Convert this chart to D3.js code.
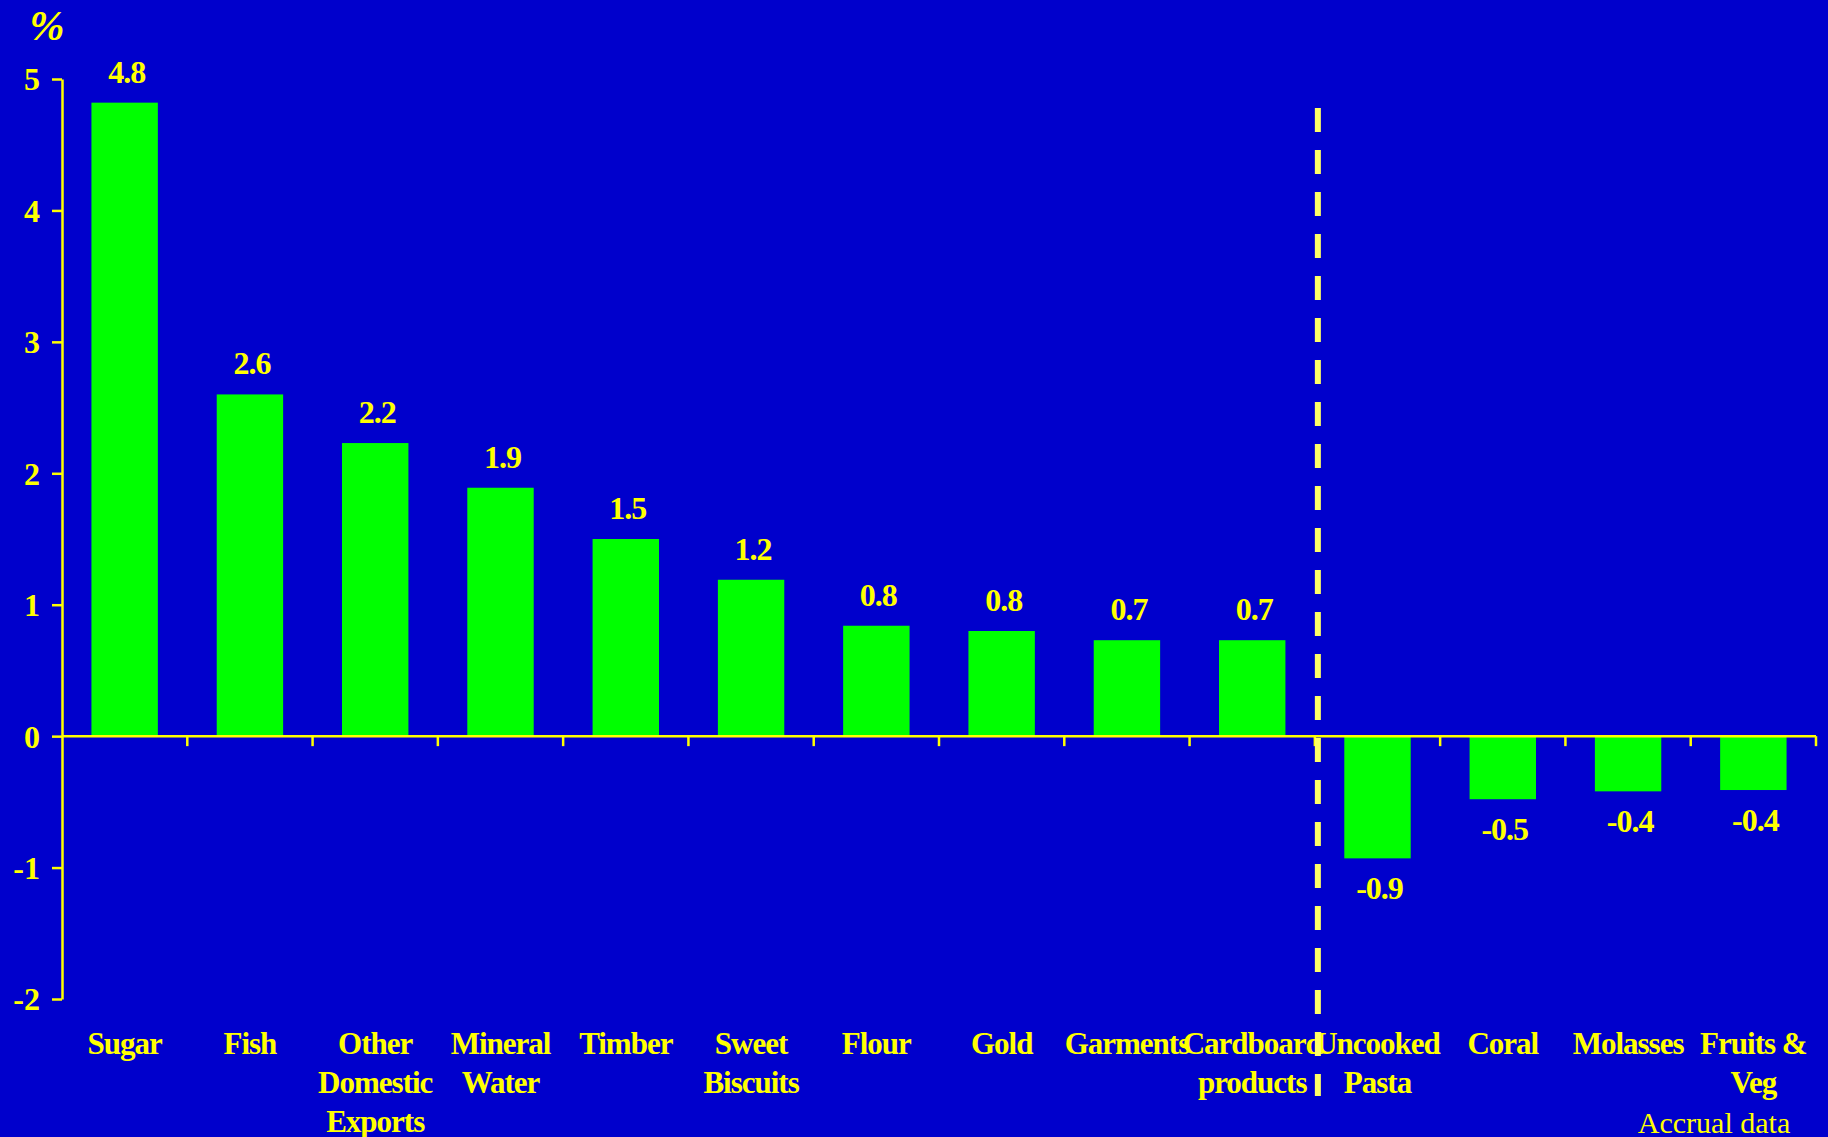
<!DOCTYPE html>
<html>
<head>
<meta charset="utf-8">
<script src="https://cdn.jsdelivr.net/npm/d3@7"></script>
<style>
  html, body { margin: 0; padding: 0; background: #0000CC; }
  svg { display: block; }
</style>
</head>
<body>
<svg id="chart" width="1828" height="1137"></svg>
<script>
const categories = ["Sugar", "Fish", "Other Domestic Exports", "Mineral Water", "Timber", "Sweet Biscuits", "Flour", "Gold", "Garments", "Cardboard products", "Uncooked Pasta", "Coral", "Molasses", "Fruits & Veg"];
const categoryLines = [["Sugar"], ["Fish"], ["Other", "Domestic", "Exports"], ["Mineral", "Water"], ["Timber"], ["Sweet", "Biscuits"], ["Flour"], ["Gold"], ["Garments"], ["Cardboard", "products"], ["Uncooked", "Pasta"], ["Coral"], ["Molasses"], ["Fruits &", "Veg"]];
const values = [4.82, 2.60, 2.23, 1.89, 1.50, 1.19, 0.84, 0.80, 0.73, 0.73, -0.93, -0.48, -0.42, -0.41];
const yTicks = [-2, -1, 0, 1, 2, 3, 4, 5];
const dividerAfter = "Cardboard products";
const yUnit = "%";
const note = "Accrual data";

(function () {
const YELLOW = "#FFFF00";
const svg = d3.select("#chart");
svg.append("rect").attr("width", 1828).attr("height", 1137).attr("fill", "#0000CC");

const mLeft = 62, mRight = 1816, mTop = 79, mBottom = 999;
const x = d3.scaleBand().domain(categories).range([mLeft, mRight]).padding(0);
const y = d3.scaleLinear().domain([-2, 5]).range([mBottom, mTop]);
const barW = x.bandwidth() * 0.53;
const locale = d3.formatLocale({decimal: ".", thousands: ",", grouping: [3], currency: ["", ""], minus: "-"});
const fmt = locale.format(".1f");
const fmtInt = locale.format("d");
const font = "'Liberation Serif', 'Times New Roman', serif";

// bars
svg.append("g").selectAll("rect").data(values).enter().append("rect")
  .attr("x", (d, i) => x(categories[i]) + (x.bandwidth() - barW) / 2)
  .attr("width", barW)
  .attr("y", d => y(Math.max(0, d)))
  .attr("height", d => Math.abs(y(d) - y(0)))
  .attr("fill", "#00FF00");

// y axis
const yAxis = svg.append("g").attr("transform", `translate(${mLeft},0)`)
  .call(d3.axisLeft(y).tickValues(yTicks).tickFormat(fmtInt).tickSize(10).tickPadding(12).tickSizeOuter(0));
yAxis.select(".domain").attr("stroke", YELLOW).attr("stroke-width", 2.5);
yAxis.selectAll(".tick line").attr("stroke", YELLOW).attr("stroke-width", 2.5);
yAxis.selectAll(".tick text").attr("fill", YELLOW).attr("font-family", font)
  .attr("font-weight", "bold").attr("font-size", 32).attr("dy", "0.34em");

// x axis at zero
const bounds = categories.map(c => x(c) + x.bandwidth());
svg.append("line").attr("x1", mLeft).attr("x2", mRight).attr("y1", y(0)).attr("y2", y(0))
  .attr("stroke", YELLOW).attr("stroke-width", 2.5);
svg.append("g").selectAll("line").data(bounds).enter().append("line")
  .attr("x1", d => d).attr("x2", d => d).attr("y1", y(0)).attr("y2", y(0) + 10)
  .attr("stroke", YELLOW).attr("stroke-width", 2.5);

// value labels
svg.append("g").selectAll("text").data(values).enter().append("text")
  .attr("x", (d, i) => x(categories[i]) + x.bandwidth() / 2 + 2)
  .attr("y", d => d >= 0 ? y(d) - 20 : y(d) + 41)
  .attr("text-anchor", "middle")
  .attr("fill", YELLOW).attr("font-family", font).attr("font-weight", "bold")
  .attr("font-size", 32).attr("letter-spacing", "-1px")
  .text(d => fmt(d));

// category labels
const catG = svg.append("g");
categoryLines.forEach((lines, i) => {
  const cx = x(categories[i]) + x.bandwidth() / 2;
  const t = catG.append("text")
    .attr("x", cx)
    .attr("y", 1054)
    .attr("text-anchor", "middle")
    .attr("fill", YELLOW).attr("font-family", font).attr("font-weight", "bold")
    .attr("font-size", 31).attr("letter-spacing", "-1px");
  lines.forEach((ln, j) => {
    t.append("tspan").attr("x", cx).attr("dy", j === 0 ? 0 : 39).text(ln);
  });
});

// dashed divider
const dx = x(dividerAfter) + x.bandwidth() + 3;
svg.append("line").attr("x1", dx).attr("x2", dx).attr("y1", 108).attr("y2", 1096)
  .attr("stroke", "#FFFF66").attr("stroke-width", 6).attr("stroke-dasharray", "24 18");

// unit label
svg.append("text").attr("x", 47).attr("y", 40).attr("text-anchor", "middle")
  .attr("fill", YELLOW).attr("font-family", font).attr("font-style", "italic")
  .attr("font-weight", "bold").attr("font-size", 42).text(yUnit);

// note
svg.append("text").attr("x", 1714).attr("y", 1133).attr("text-anchor", "middle")
  .attr("fill", YELLOW).attr("font-family", font).attr("font-size", 30).text(note);
})();
</script>
</body>
</html>
